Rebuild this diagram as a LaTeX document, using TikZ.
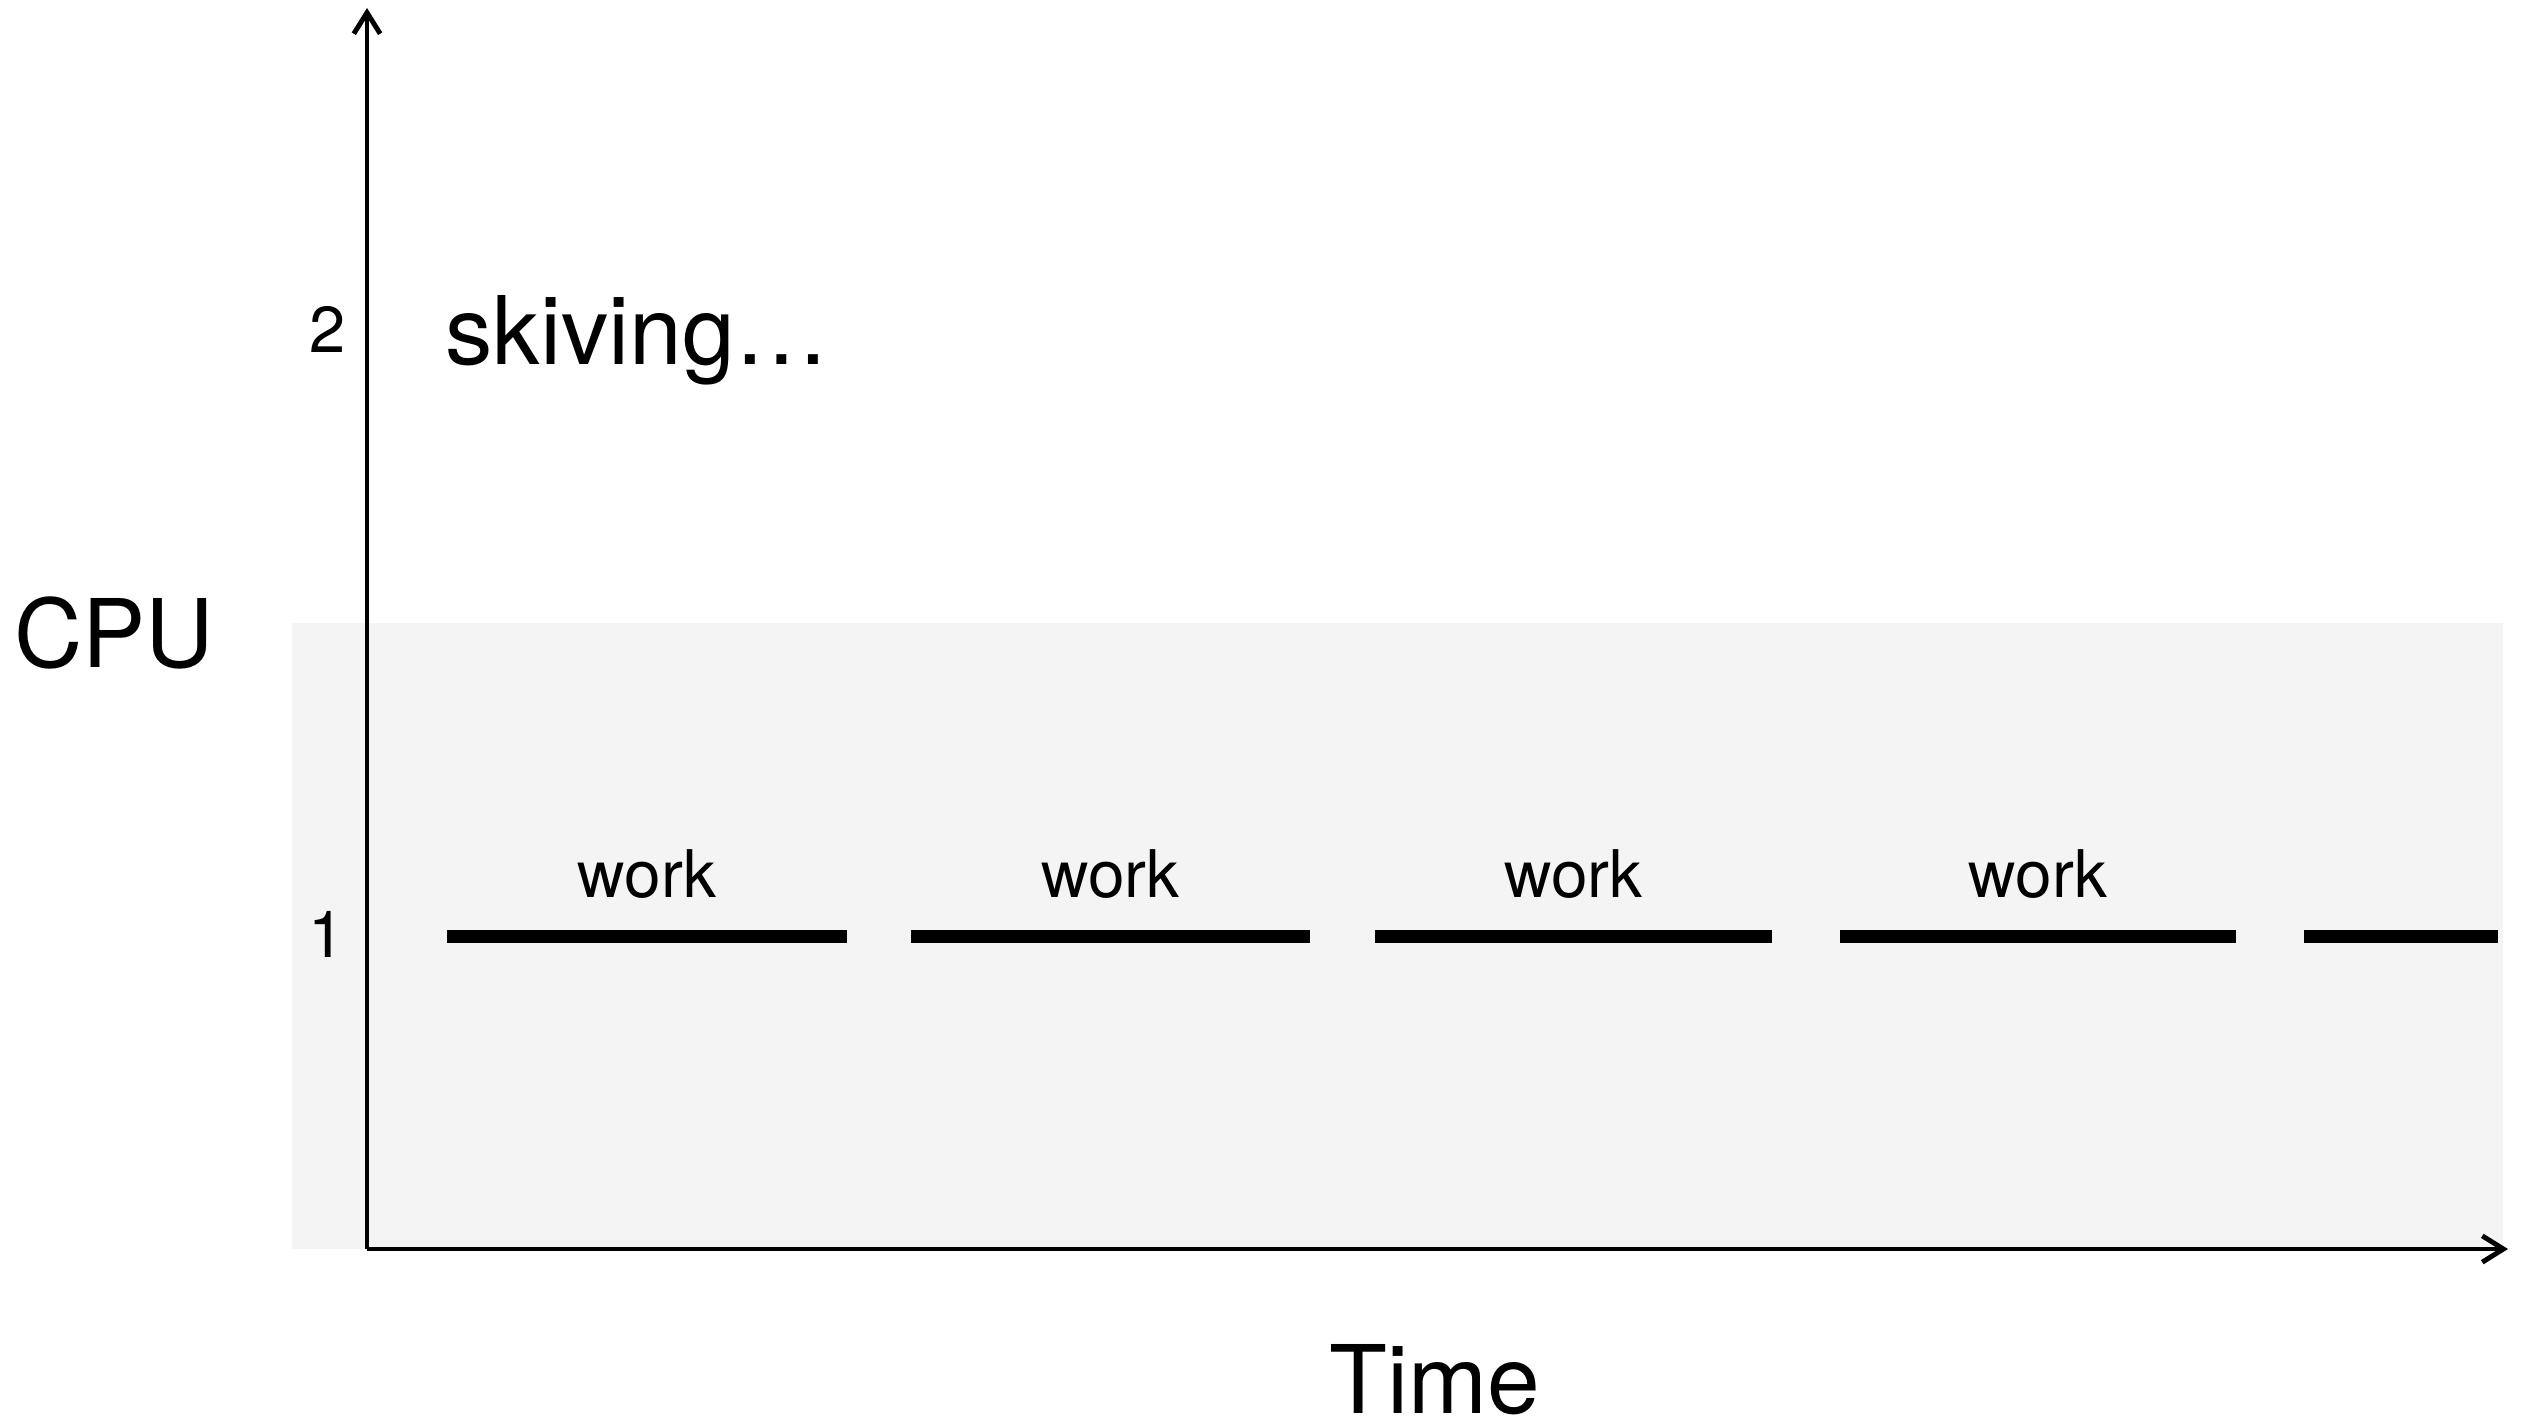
\documentclass[tikz,border=0pt]{standalone}
\usepackage{fontspec}
\setmainfont{TeX Gyre Heros}
\usetikzlibrary{arrows.meta}
\definecolor{bandgray}{HTML}{F4F4F4}
\begin{document}
\begin{tikzpicture}[x=0.02cm,y=-0.02cm,
  axisline/.style={line width=2.8pt,line cap=butt,
    -{Straight Barb[length=12pt,width=15pt]}},
  bar/.style={line width=7.4pt,line cap=butt},
  bigtext/.style={inner sep=0pt,font=\fontsize{53.9}{60}\selectfont},
  worklabel/.style={inner sep=0pt,anchor=base,font=\fontsize{37.4}{42}\selectfont},
  ticklabel/.style={inner sep=0pt,anchor=base,font=\fontsize{37}{42}\selectfont}]
\useasboundingbox (0,0) rectangle (2533,1427);
% shaded band behind the single-CPU row
\fill[bandgray] (292,623) rectangle (2503,1249);
% axes
\coordinate (O) at (367,1249);
\coordinate (ytop) at (367,8);
\coordinate (xend) at (2508,1249);
\draw[axisline] (O) -- (ytop);
\draw[axisline] (O) -- (xend);
% tick labels
\node[ticklabel] (t1) at (327,957) {1};
\node[ticklabel] (t2) at (328,352) {2};
% axis titles
\node[bigtext,anchor=base] (cpu) at (114,667) {CPU};
\node[bigtext,anchor=base] (time) at (1435,1413) {Time};
\node[bigtext,anchor=base west] (skiv) at (445,364) {skiving…};
% work slices
\foreach \a/\b/\n in {447/847/1,911/1310/2,1375/1772/3,1840/2236/4,2304/2498/5}{
  \coordinate (b\n s) at (\a,936);
  \coordinate (b\n e) at (\b,936);
  \draw[bar] (b\n s) -- (b\n e);
}
\foreach \m/\n in {647/1,1110.5/2,1573.5/3,2038/4}{
  \node[worklabel] (w\n) at (\m,897) {work};
}
\end{tikzpicture}
\end{document}
